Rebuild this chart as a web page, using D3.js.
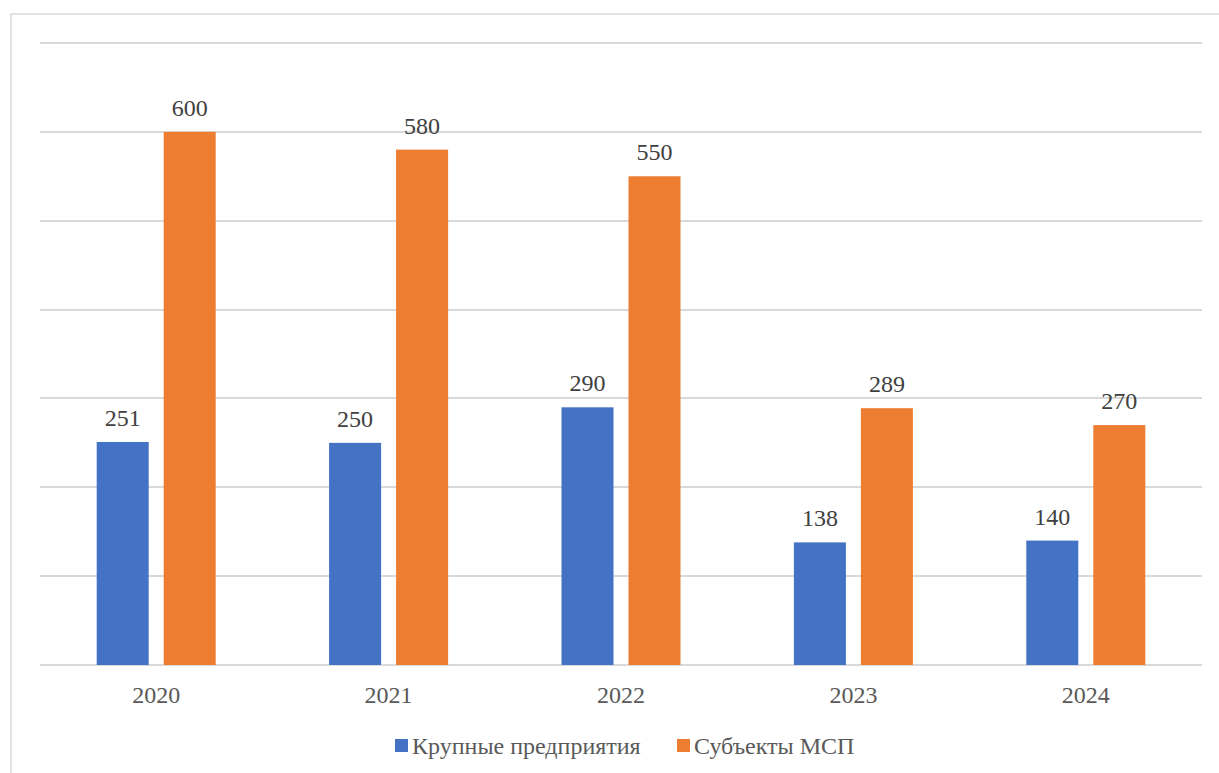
<!DOCTYPE html>
<html>
<head>
<meta charset="utf-8">
<style>
body { margin: 0; background: #fff; }
svg text { font-family: "Liberation Serif", "Times New Roman", serif; }
.grid line { stroke: #d9d9d9; stroke-width: 2px; }
.xlab { fill: #595959; font-size: 24px; }
.vlab { fill: #404040; font-size: 24px; }
.legend text { fill: #595959; font-size: 24px; }
</style>
</head>
<body>
<svg width="1219" height="773"></svg>
<script src="https://cdn.jsdelivr.net/npm/d3@7"></script>
<script>
var years = ["2020", "2021", "2022", "2023", "2024"];
var seriesNames = ["Крупные предприятия", "Субъекты МСП"];
var large = [251, 250, 290, 138, 140];
var sme = [600, 580, 550, 289, 270];
var gridTicks = [0, 100, 200, 300, 400, 500, 600, 700];
var colors = ["#4472c4", "#ed7d31"];

var svg = d3.select("svg");

// chart border
svg.append("rect")
    .attr("x", 11).attr("y", 14)
    .attr("width", 1220).attr("height", 770)
    .attr("fill", "none")
    .attr("stroke", "#d9d9d9")
    .attr("stroke-width", 1.5);

var plotLeft = 40, plotRight = 1202, plotTop = 43, plotBottom = 665;

var y = d3.scaleLinear().domain([0, 700]).range([plotBottom, plotTop]);
var x = d3.scaleBand().domain(years).range([plotLeft, plotRight]).paddingInner(0).paddingOuter(0);
var inner = d3.scaleBand().domain([0, 1])
    .range([(x.bandwidth() - 119) / 2, (x.bandwidth() + 119) / 2])
    .paddingInner(15 / 67);

svg.append("g").attr("class", "grid")
  .selectAll("line")
  .data(gridTicks)
  .enter().append("line")
    .attr("x1", plotLeft).attr("x2", plotRight)
    .attr("y1", function(d) { return Math.round(y(d)); })
    .attr("y2", function(d) { return Math.round(y(d)); });

var data = [];
years.forEach(function(yr, i) {
  data.push({ year: yr, s: 0, v: large[i] });
  data.push({ year: yr, s: 1, v: sme[i] });
});

svg.append("g")
  .selectAll("rect")
  .data(data)
  .enter().append("rect")
    .attr("x", function(d) { return x(d.year) + inner(d.s); })
    .attr("y", function(d) { return y(d.v); })
    .attr("width", inner.bandwidth())
    .attr("height", function(d) { return y(0) - y(d.v); })
    .attr("fill", function(d) { return colors[d.s]; });

svg.append("g")
  .selectAll("text")
  .data(data)
  .enter().append("text")
    .attr("class", "vlab")
    .attr("text-anchor", "middle")
    .attr("x", function(d) { return x(d.year) + inner(d.s) + inner.bandwidth() / 2; })
    .attr("y", function(d) { return y(d.v) - 16; })
    .text(function(d) { return d.v; });

svg.append("g")
  .selectAll("text")
  .data(years)
  .enter().append("text")
    .attr("class", "xlab")
    .attr("text-anchor", "middle")
    .attr("x", function(d) { return x(d) + x.bandwidth() / 2; })
    .attr("y", 703)
    .text(function(d) { return d; });

// legend
var legend = svg.append("g").attr("class", "legend");
var legX = [395, 677];
seriesNames.forEach(function(name, i) {
  legend.append("rect")
      .attr("x", legX[i]).attr("y", 739)
      .attr("width", 13).attr("height", 13)
      .attr("fill", colors[i]);
  legend.append("text")
      .attr("x", legX[i] + 17).attr("y", 754)
      .text(name);
});
</script>
</body>
</html>
